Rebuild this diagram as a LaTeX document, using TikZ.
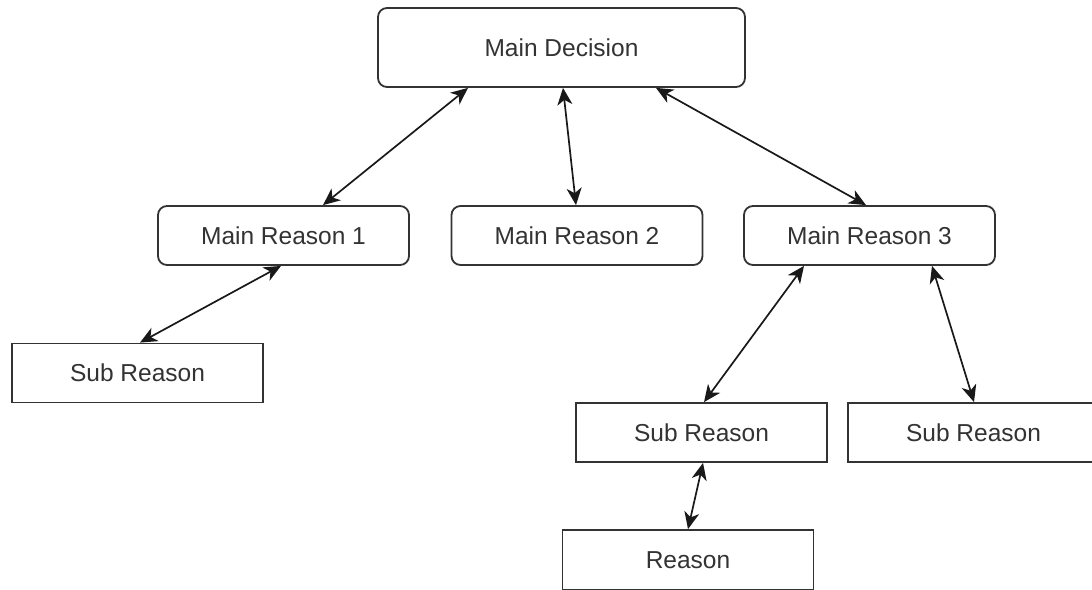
\documentclass[tikz,border=0pt]{standalone}
\usepackage{fontspec}
\setmainfont{Liberation Sans}
\usetikzlibrary{arrows.meta,calc}
\begin{document}
\begin{tikzpicture}[x=1pt,y=-1pt,
 box/.style={draw=black!80,line width=1.8pt,fill=white,minimum width=251pt,minimum height=59pt,inner sep=0pt,font=\fontsize{24.5}{28}\selectfont,text=black!80},
 rbox/.style={box,rounded corners=9pt},
 link/.style={line width=1.7pt,draw=black!90,{Stealth[length=17pt,width=15pt,inset=5pt]}-{Stealth[length=17pt,width=15pt,inset=5pt]}}]
\useasboundingbox (0,0) rectangle (1092,589);
\clip (0,0) rectangle (1092,589);
\node[rbox,minimum width=367pt,minimum height=79pt] (md) at (561.5,47.5) {Main Decision};
\node[rbox] (mr1) at (283.5,235.5) {Main Reason 1};
\node[rbox] (mr2) at (577,235.5) {Main Reason 2};
\node[rbox] (mr3) at (869.5,235.5) {Main Reason 3};
\node[box] (sl) at (137.5,373) {Sub Reason};
\node[box] (sm) at (701.5,432.5) {Sub Reason};
\node[box] (sr) at (973.5,432.5) {Sub Reason};
\node[box,minimum height=60pt] (r) at (688,560) {Reason};
\draw[link] ($(md.south)+(-93.5,0)$) -- ($(mr1.north)+(39.5,0)$);
\draw[link] ($(md.south)+(1.5,0)$) -- ($(mr2.north)+(-1,0)$);
\draw[link] ($(md.south)+(94.5,0)$) -- ($(mr3.north)+(-3.5,0)$);
\draw[link] ($(mr1.south)+(-2.5,0)$) -- ($(sl.north)+(2.5,0)$);
\draw[link] ($(mr3.south)+(-65.5,0)$) -- ($(sm.north)+(2.5,0)$);
\draw[link] ($(mr3.south)+(62.5,0)$) -- ($(sr.north)+(0.5,0)$);
\draw[link] ($(sm.south)+(1.5,0)$) -- ($(r.north)+(0,0)$);
\end{tikzpicture}
\end{document}
